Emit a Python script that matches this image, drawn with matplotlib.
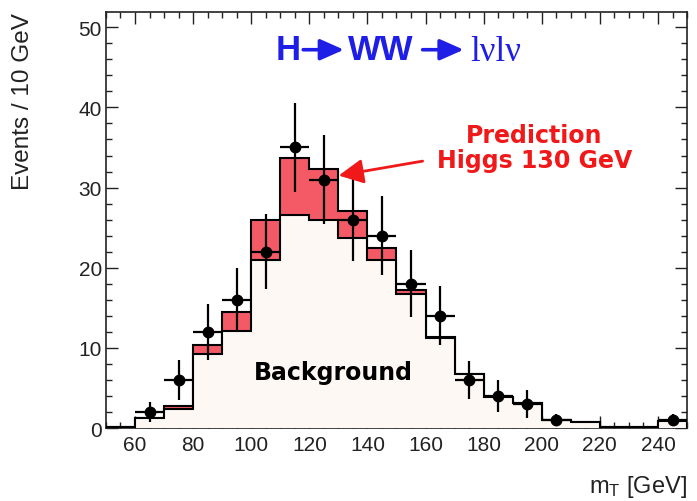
import numpy as np
import matplotlib
matplotlib.use("Agg")
import matplotlib.pyplot as plt
from matplotlib.ticker import MultipleLocator

# ---------------- data ----------------
bin_edges = list(range(50, 260, 10))
background = [0.1, 1.2, 2.4, 9.2, 12.1, 21.0, 26.6, 26.0, 23.7, 21.0,
              16.7, 11.2, 6.7, 3.9, 3.1, 1.0, 0.8, 0.1, 0.1, 0.9]
total_pred = [0.1, 1.2, 2.7, 10.3, 14.5, 26.0, 33.7, 32.3, 27.1, 22.4,
              17.2, 11.3, 6.7, 3.9, 3.1, 1.0, 0.8, 0.1, 0.1, 0.9]
data_counts = [0, 2, 6, 12, 16, 22, 35, 31, 26, 24,
               18, 14, 6, 4, 3, 1, 0, 0, 0, 1]
data_errors = [0, 1.3, 2.45, 3.5, 4.0, 4.7, 5.6, 5.6, 5.1, 4.9,
               4.2, 3.7, 2.4, 2.0, 1.7, 0.7, 0, 0, 0, 0.7]
x_ticks = [60, 80, 100, 120, 140, 160, 180, 200, 220, 240]
y_ticks = [0, 10, 20, 30, 40, 50]

plt.rcParams['font.family'] = ['Liberation Sans', 'DejaVu Sans']
plt.rcParams['mathtext.fontset'] = 'custom'
plt.rcParams['mathtext.rm'] = 'Liberation Sans'
plt.rcParams['mathtext.it'] = 'Liberation Sans'

fig = plt.figure(figsize=(6.97, 5.02), dpi=100)
ax = fig.add_axes([0.152, 0.1454, 0.8337, 0.8286])

edges = np.array(bin_edges, dtype=float)
bkg = np.array(background)
tot = np.array(total_pred)
dat = np.array(data_counts, dtype=float)
err = np.array(data_errors)
centers = 0.5 * (edges[:-1] + edges[1:])
half = 0.5 * np.diff(edges)

red = '#f45a66'
pale = '#fdf8f3'

ax.stairs(tot, edges, fill=True, color=red, zorder=1)
ax.stairs(tot, edges, color='black', lw=1.5, zorder=2)
ax.stairs(bkg, edges, fill=True, color=pale, zorder=3)
ax.stairs(bkg, edges, color='black', lw=1.5, zorder=4)

m = dat > 0
ax.errorbar(centers[m], dat[m], xerr=half[m], yerr=err[m], fmt='o',
            color='black', ms=7.5, elinewidth=1.6, capsize=0, zorder=6)

ax.set_xlim(50, 250)
ax.set_ylim(0, 51.9)
ax.set_xticks(x_ticks)
ax.set_yticks(y_ticks)
ax.xaxis.set_minor_locator(MultipleLocator(5))
ax.yaxis.set_minor_locator(MultipleLocator(2))
ax.tick_params(which='both', direction='in', top=True, right=True,
               colors='#222222', width=1.0)
ax.tick_params(which='major', length=8.5, labelsize=15)
ax.tick_params(which='minor', length=4.3)
ax.tick_params(axis='x', which='major', pad=5)
ax.tick_params(axis='y', which='major', pad=3)
for s in ax.spines.values():
    s.set_linewidth(1.2)
    s.set_color('#222222')

ax.set_ylabel('Events / 10 GeV', fontsize=17.5, loc='top', color='#222222')
ax.yaxis.set_label_coords(-0.124, 1.0)
ax.set_xlabel(r'm$_{\rm T}$ [GeV]', fontsize=17, loc='right', color='#222222')
ax.xaxis.set_label_coords(1.0, -0.108)

# title pieces
blue = '#1e1ee6'
ax.text(108.3, 47.2, 'H', color=blue, fontsize=25, fontweight='bold',
        ha='left', va='center', zorder=7)
ax.annotate('', xy=(131.9, 47.2), xytext=(117.9, 47.2),
            arrowprops=dict(arrowstyle='-|>,head_length=0.45,head_width=0.2',
                            lw=2.6, color=blue, mutation_scale=32,
                            shrinkA=0, shrinkB=0))
ax.text(133.2, 47.2, 'WW', color=blue, fontsize=25, fontweight='bold',
        ha='left', va='center', zorder=7)
ax.annotate('', xy=(173.1, 47.2), xytext=(159.0, 47.2),
            arrowprops=dict(arrowstyle='-|>,head_length=0.45,head_width=0.2',
                            lw=2.6, color=blue, mutation_scale=32,
                            shrinkA=0, shrinkB=0))
ax.text(175.5, 47.0, 'lνlν', color=blue, fontsize=25,
        family=['Liberation Serif', 'DejaVu Serif'],
        ha='left', va='center', zorder=7)

# prediction annotation
ax.text(197.5, 35.0, 'Prediction\nHiggs 130 GeV', color='#f01818',
        fontsize=17, fontweight='bold', family=['DejaVu Sans'],
        ha='center', va='center', linespacing=1.05, zorder=7)
ax.annotate('', xy=(130.1, 31.5), xytext=(159.0, 33.3),
            arrowprops=dict(arrowstyle='-|>,head_length=0.5,head_width=0.25',
                            lw=2, color='#f01818', mutation_scale=30,
                            shrinkA=0, shrinkB=0), zorder=7)

ax.text(128.3, 7.0, 'Background', color='black', fontsize=17,
        fontweight='bold', family=['DejaVu Sans'],
        ha='center', va='center', zorder=7)

fig.savefig('out.png', dpi=100, facecolor='white')
